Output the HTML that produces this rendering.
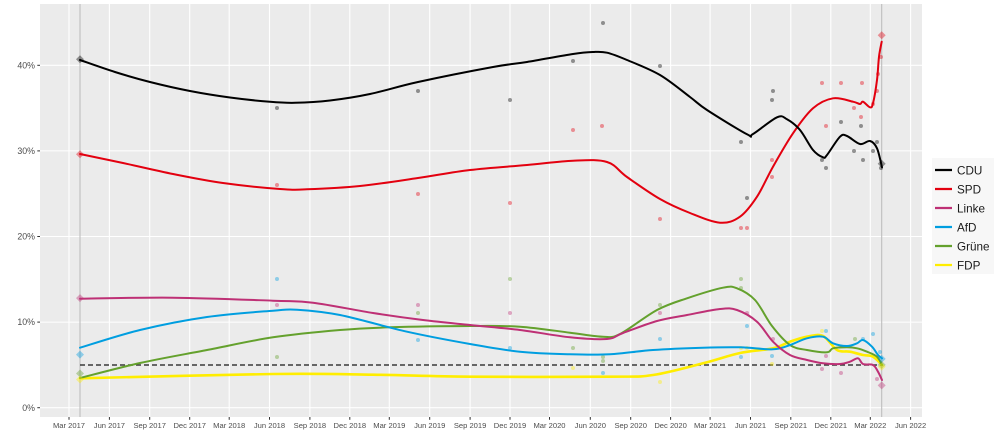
<!DOCTYPE html>
<html>
<head>
<meta charset="utf-8">
<style>
html,body{margin:0;padding:0;background:#fff;}
svg{display:block;font-family:"Liberation Sans",Arial,sans-serif;}
</style>
</head>
<body>
<svg id="c" width="1000" height="444" viewBox="0 0 1000 444" xmlns="http://www.w3.org/2000/svg">
  <rect x="0" y="0" width="1000" height="444" fill="#ffffff"/>
  <rect x="40" y="4" width="882" height="413" fill="#ebebeb"/>
  <g id="grid" stroke="#ffffff" stroke-width="1.07"></g>
  <g id="axes"></g>
  <line x1="80" y1="4" x2="80" y2="417" stroke="#bdbdbd" stroke-width="1.1"/>
  <line x1="881.7" y1="4" x2="881.7" y2="417" stroke="#bdbdbd" stroke-width="1.1"/>
  <line x1="80" y1="365" x2="881.7" y2="365" stroke="#3a3a3a" stroke-width="1.5" stroke-dasharray="5,3"/>
  <g id="dots"></g>
  <g id="lines" fill="none" stroke-linecap="round" stroke-linejoin="round"></g>
  <g id="diamonds"></g>
  <!-- legend -->
  <rect x="932" y="158" width="62" height="116" fill="#f7f7f7"/>
  <g font-size="11.7" fill="#1a1a1a">
    <line x1="935" y1="170" x2="952" y2="170" stroke="#000000" stroke-width="2.2"/>
    <text x="957" y="174.3">CDU</text>
    <line x1="935" y1="189" x2="952" y2="189" stroke="#E3000F" stroke-width="2.2"/>
    <text x="957" y="193.3">SPD</text>
    <line x1="935" y1="208" x2="952" y2="208" stroke="#BE3075" stroke-width="2.2"/>
    <text x="957" y="212.3">Linke</text>
    <line x1="935" y1="227" x2="952" y2="227" stroke="#009EE0" stroke-width="2.2"/>
    <text x="957" y="231.3">AfD</text>
    <line x1="935" y1="246" x2="952" y2="246" stroke="#64A12D" stroke-width="2.2"/>
    <text x="957" y="250.3">Grüne</text>
    <line x1="935" y1="265" x2="952" y2="265" stroke="#FFED00" stroke-width="2.2"/>
    <text x="957" y="269.3">FDP</text>
  </g>
</svg>
<script>
(function(){
var NS="http://www.w3.org/2000/svg";
function el(tag,attrs,parent,text){var e=document.createElementNS(NS,tag);for(var k in attrs)e.setAttribute(k,attrs[k]);if(text!==undefined)e.textContent=text;parent.appendChild(e);return e;}
var grid=document.getElementById('grid'),axes=document.getElementById('axes');
var ys=[[0,407.7],[10,322.1],[20,236.5],[30,150.9],[40,65.3]];
ys.forEach(function(p){
  el('line',{x1:40,x2:922,y1:p[1],y2:p[1]},grid);
  el('line',{x1:37.3,x2:40,y1:p[1],y2:p[1],stroke:'#333',"stroke-width":1},axes);
  el('text',{x:35,y:p[1]+3.1,"text-anchor":"end","font-size":8.8,fill:'#4d4d4d'},axes,p[0]+'%');
});
var xs=[69.0,109.4,149.7,189.7,229.2,269.5,309.9,349.8,389.3,429.7,470.1,510.0,549.5,590.3,630.7,670.6,710.1,750.5,790.8,830.8,870.3,910.6];
var mon=['Mar','Jun','Sep','Dec'];
xs.forEach(function(x,i){
  el('line',{x1:x,x2:x,y1:4,y2:417},grid);
  el('line',{x1:x,x2:x,y1:417,y2:419.8,stroke:'#333',"stroke-width":1},axes);
  var yr=2017+Math.floor(i/4);
  el('text',{x:x,y:427.8,"text-anchor":"middle","font-size":7.6,fill:'#4d4d4d'},axes,mon[i%4]+' '+yr);
});
var col={CDU:'#000000',SPD:'#E3000F',Linke:'#BE3075',AfD:'#009EE0',Gruene:'#64A12D',FDP:'#FFED00'};
var dots={
CDU:[[277,108],[418,91],[510,100],[573,61],[603,23],[660,66],[741,142],[747,198],[773,91],[772,100],[822,160],[826,168],[841,122],[854,151],[861,126],[863,160],[873,151],[877,142],[881,168]],
SPD:[[277,185],[418,194],[510,203],[573,130],[602,126],[660,219],[741,228],[747,228],[772,160],[772,177],[822,83],[826,126],[841,83],[854,108],[861,117],[862,83],[877,91],[878,74],[881,57],[873,104]],
Linke:[[277,305],[418,305],[510,313],[660,313],[747,313],[773,339],[826,356],[822,369],[841,373],[877,379]],
AfD:[[277,279],[418,340],[510,348],[603,373],[660,339],[741,357],[772,356],[826,331],[863,339],[873,334],[880,352],[747,326]],
Gruene:[[277,357],[418,313],[510,279],[660,305],[741,279],[741,288],[573,348],[603,357],[603,361],[855,339]],
FDP:[[573,368],[660,382],[741,348],[772,364],[822,331],[747,348]]
};
var dg=document.getElementById('dots');
for(var k in dots){dots[k].forEach(function(p){el('circle',{cx:p[0],cy:p[1],r:2,fill:col[k],"fill-opacity":0.4},dg);});}
var L={
CDU:[[80,60],[115,72],[150,82],[190,91],[230,97.5],[270,101.8],[295,102.8],[330,100.5],[370,94],[418,82],[493,67],[527,62],[573,54],[593,52],[607,52.7],[627,60],[660,75],[690,97],[707,110],[747,134.3],[753,134],[777,117.3],[787,119.3],[800,130],[813,150],[823,157.3],[827,155],[840,136.7],[847,136],[860,144],[870,141],[877,148.3],[882,167.3]],
SPD:[[80,154],[123,163],[173,174],[223,183],[280,189],[307,189.3],[360,186],[418,178],[470,170],[527,165],[573,160.7],[607,162],[627,177],[660,199],[690,213],[720,222.7],[740,216.7],[757,196.7],[773,166.7],[793,133.3],[813,108.3],[833,98.3],[853,101.7],[860,104],[863,101.7],[870,107.3],[873,103.3],[877,80],[879,56.7],[881.7,41.7]],
Linke:[[80,298.7],[173,297.7],[273,300.7],[313,302.7],[373,313],[423,320],[470,325],[520,330],[570,337.3],[607,339],[623,333],[657,321],[687,315],[720,309],[737,310],[757,321.7],[773,341.7],[790,355],[807,360],[823,363.3],[840,364],[850,361.7],[858,358.3],[863,364],[873,365],[878,371.7],[882,380]],
AfD:[[80,347.7],[140,330],[207,317],[273,310.7],[297,309.7],[340,315],[407,331.7],[470,344],[520,351.7],[570,354.3],[610,354.3],[653,350],[703,347.7],[740,347.3],[773,349.3],[790,345],[807,338.3],[823,336.7],[833,343.3],[847,346],[857,343.3],[863,340],[872,346.7],[878,355],[882,358.3]],
Gruene:[[80,378],[140,363],[207,350],[273,337.3],[340,330],[390,327.3],[470,326],[520,326.7],[570,332.7],[603,336.7],[620,334],[657,310],[687,298.3],[723,287.7],[737,288.3],[755,300],[772,326],[790,345],[807,350],[827,352.3],[833,348.3],[847,347.3],[857,348.3],[867,351.7],[877,356.7],[882,365]],
FDP:[[80,378.3],[273,374],[373,374.7],[470,376.7],[610,376.7],[653,375],[703,363.3],[740,353],[773,348.3],[790,341.7],[807,336.7],[823,336],[837,350],[850,351.7],[863,355],[873,356.7],[882,365]]
};
function cr(p){
  var d='M'+p[0][0]+','+p[0][1];
  for(var i=0;i<p.length-1;i++){
    var p0=p[i-1]||p[i],p1=p[i],p2=p[i+1],p3=p[i+2]||p2;
    var c1x=p1[0]+(p2[0]-p0[0])/6,c1y=p1[1]+(p2[1]-p0[1])/6;
    var c2x=p2[0]-(p3[0]-p1[0])/6,c2y=p2[1]-(p3[1]-p1[1])/6;
    d+=' C'+c1x.toFixed(2)+','+c1y.toFixed(2)+' '+c2x.toFixed(2)+','+c2y.toFixed(2)+' '+p2[0]+','+p2[1];
  }
  return d;
}
var lg=document.getElementById('lines');
['FDP','Gruene','AfD','Linke','SPD','CDU'].forEach(function(k){
  el('path',{d:cr(L[k]),stroke:col[k],"stroke-width":(k==='FDP'?2.6:2)},lg);
});
var dm=document.getElementById('diamonds');
var D=[['CDU',80,59.3],['SPD',80,154.3],['Linke',80,298.1],['AfD',80,354.6],['Gruene',80,373.5],['FDP',80,379.5],
['SPD',881.7,35.3],['CDU',881.7,163.7],['AfD',881.7,358.9],['Gruene',881.7,364.9],['FDP',881.7,366.6],['Linke',881.7,385.4]];
D.forEach(function(a){
  var x=a[1],y=a[2],s=4;
  el('polygon',{points:(x)+','+(y-s)+' '+(x+s)+','+y+' '+x+','+(y+s)+' '+(x-s)+','+y,fill:col[a[0]],"fill-opacity":0.4},dm);
});
})();
</script>
</body>
</html>
